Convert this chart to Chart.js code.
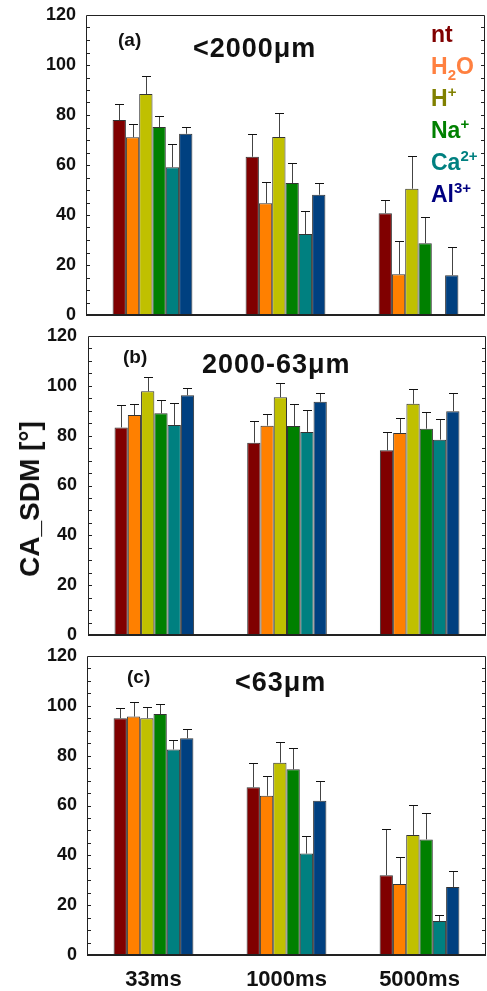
<!DOCTYPE html>
<html>
<head>
<meta charset="utf-8">
<script src="https://cdn.jsdelivr.net/npm/chart.js@4.4.1/dist/chart.umd.min.js"></script>
<style>
  body { margin: 0; background: #fff; }
  #wrap { position: relative; width: 487px; height: 991px; background: #fff; overflow: hidden;
          font-family: "Liberation Sans", Arial, sans-serif; font-weight: bold; }
  canvas { position: absolute; left: 0; }
  .txt { position: absolute; line-height: 1; white-space: nowrap; color: #111; }
  .tag { font-size: 19px; }
  .ttl { font-size: 27px; letter-spacing: 1px; }
  .lg { position: absolute; left: 431px; font-size: 23px; line-height: 1; white-space: nowrap; }
  .lg sub, .lg sup { font-size: 15px; line-height: 0; }
  #ylab { position: absolute; left: 30px; top: 499px; font-size: 28px; white-space: nowrap; color: #111;
          transform: translate(-50%, -50%) rotate(-90deg); line-height: 1; }
</style>
</head>
<body>
<div id="wrap">
  <canvas id="panel-a" width="487" height="320" style="top:0px"></canvas>
  <canvas id="panel-b" width="487" height="320" style="top:320px"></canvas>
  <canvas id="panel-c" width="487" height="351" style="top:640px"></canvas>

  <div class="txt tag" style="left:118px;top:30px">(a)</div>
  <div class="txt ttl" style="left:193px;top:35px">&lt;2000μm</div>
  <div class="txt tag" style="left:123px;top:347px">(b)</div>
  <div class="txt ttl" style="left:202px;top:351px">2000-63μm</div>
  <div class="txt tag" style="left:127px;top:667px">(c)</div>
  <div class="txt ttl" style="left:235px;top:669px">&lt;63μm</div>

  <div class="lg" style="top:23px;color:#800000">nt</div>
  <div class="lg" style="top:55px;color:#ff8040">H<sub>2</sub>O</div>
  <div class="lg" style="top:87px;color:#808000">H<sup>+</sup></div>
  <div class="lg" style="top:119px;color:#008000">Na<sup>+</sup></div>
  <div class="lg" style="top:151px;color:#008080">Ca<sup>2+</sup></div>
  <div class="lg" style="top:183px;color:#000080">Al<sup>3+</sup></div>

  <div id="ylab">CA_SDM [°]</div>
</div>

<script>
const times = ['33ms', '1000ms', '5000ms'];
const seriesNames = ['nt', 'H2O', 'H+', 'Na+', 'Ca2+', 'Al3+'];
const barColors = ['#800000', '#ff8000', '#c0c000', '#008000', '#008080', '#004080'];
const yTicks = [0, 20, 40, 60, 80, 100, 120];

// (a) <2000um : one row per series, values for 33 / 1000 / 5000 ms
const meanA = [
  [78.0, 63.3, 40.7],
  [71.1, 44.7, 16.3],
  [88.4, 71.2, 50.5],
  [75.2, 52.8, 28.7],
  [59.1, 32.4, null],
  [72.5, 48.1, 15.9]
];
const errA = [
  [6.5, 9.1, 5.3],
  [5.3, 8.6, 13.2],
  [7.3, 9.5, 13.0],
  [4.3, 8.1, 10.4],
  [9.2, 9.1, null],
  [2.8, 4.8, 11.2]
];

// (b) 2000-63um
const meanB = [
  [83.3, 77.2, 74.1],
  [88.3, 84.0, 81.1],
  [97.8, 95.4, 92.8],
  [89.0, 83.9, 82.8],
  [84.3, 81.5, 78.4],
  [96.2, 93.6, 89.8]
];
const errB = [
  [9.0, 8.6, 7.5],
  [4.4, 4.8, 6.1],
  [5.9, 5.9, 6.1],
  [5.4, 8.7, 6.8],
  [8.8, 8.7, 8.3],
  [2.9, 3.4, 7.5]
];

// (c) <63um
const meanC = [
  [95.0, 67.3, 32.0],
  [95.7, 63.9, 28.5],
  [95.0, 77.2, 48.2],
  [96.7, 74.5, 46.4],
  [82.5, 40.7, 13.6],
  [87.0, 61.9, 27.3]
];
const errC = [
  [4.1, 9.6, 18.7],
  [5.8, 8.1, 11.0],
  [4.7, 8.4, 12.1],
  [3.9, 8.4, 10.7],
  [3.7, 7.2, 2.6],
  [3.8, 7.8, 6.3]
];

// upper error bars with a cap
const errorBars = {
  id: 'errorBars',
  afterDatasetsDraw(chart) {
    const ctx = chart.ctx;
    const y = chart.scales.y;
    chart.data.datasets.forEach((ds, i) => {
      const meta = chart.getDatasetMeta(i);
      meta.data.forEach((bar, j) => {
        const v = ds.data[j];
        const e = ds.errors[j];
        if (v == null || e == null) return;
        const top = Math.round(y.getPixelForValue(v + e)) + 0.5;
        const x = Math.round(bar.x) + 0.5;
        ctx.save();
        ctx.strokeStyle = '#444';
        ctx.lineWidth = 1;
        ctx.beginPath();
        ctx.moveTo(x, bar.y);
        ctx.lineTo(x, top);
        ctx.stroke();
        ctx.strokeStyle = '#111';
        ctx.beginPath();
        ctx.moveTo(x - 4.5, top);
        ctx.lineTo(x + 4.5, top);
        ctx.stroke();
        ctx.restore();
      });
    });
  }
};

// box frame plus small inward ticks every 5
const frame = {
  id: 'frame',
  afterDraw(chart) {
    const ctx = chart.ctx;
    const a = chart.chartArea;
    const y = chart.scales.y;
    ctx.save();
    ctx.strokeStyle = '#222';
    ctx.lineWidth = 1;
    ctx.beginPath();
    ctx.moveTo(a.left + 0.5, a.bottom);
    ctx.lineTo(a.left + 0.5, a.top + 0.5);
    ctx.lineTo(a.right - 0.5, a.top + 0.5);
    ctx.lineTo(a.right - 0.5, a.bottom);
    ctx.stroke();
    for (let v = 5; v < 120; v += 5) {
      const py = Math.round(y.getPixelForValue(v)) + 0.5;
      ctx.beginPath();
      ctx.moveTo(a.left, py);
      ctx.lineTo(a.left + 4, py);
      ctx.moveTo(a.right - 4, py);
      ctx.lineTo(a.right, py);
      ctx.stroke();
    }
    ctx.lineWidth = 2;
    ctx.beginPath();
    ctx.moveTo(a.left, a.bottom);
    ctx.lineTo(a.right, a.bottom);
    ctx.stroke();
    ctx.restore();
  }
};

const makePanel = (id, means, errs, cfg) => {
  const ctx = document.getElementById(id).getContext('2d');
  return new Chart(ctx, {
    type: 'bar',
    data: {
      labels: times,
      datasets: seriesNames.map((name, i) => ({
        label: name,
        data: means[i],
        errors: errs[i],
        backgroundColor: barColors[i],
        borderColor: '#333',
        borderWidth: 1,
        categoryPercentage: 0.6,
        barPercentage: 1.0
      }))
    },
    options: {
      responsive: false,
      animation: false,
      devicePixelRatio: 1,
      layout: { padding: { top: cfg.top, right: cfg.right, bottom: cfg.bottom, left: 0 } },
      plugins: { legend: { display: false }, tooltip: { enabled: false } },
      scales: {
        x: {
          grid: { display: false, drawTicks: false },
          border: { display: false },
          ticks: {
            display: cfg.showX,
            color: '#111',
            padding: 12,
            font: { family: 'Liberation Sans, Arial, sans-serif', size: 22, weight: 'bold' }
          },
          afterFit: (s) => { s.height = cfg.xHeight; }
        },
        y: {
          min: 0,
          max: 120,
          afterBuildTicks: (s) => { s.ticks = yTicks.map(v => ({ value: v })); },
          grid: { display: false, drawTicks: false },
          border: { display: false },
          ticks: {
            color: '#111',
            padding: cfg.yPad,
            font: { family: 'Liberation Sans, Arial, sans-serif', size: 18, weight: 'bold' }
          },
          afterFit: (s) => {
            s.width = cfg.yWidth;
            s.paddingTop = 0;
            s.paddingBottom = 0;
          }
        }
      }
    },
    plugins: [errorBars, frame]
  });
};

makePanel('panel-a', meanA, errA, { top: 15, right: 2, bottom: 5, xHeight: 0, showX: false, yWidth: 86, yPad: 10 });
makePanel('panel-b', meanB, errB, { top: 16, right: 1, bottom: 5, xHeight: 0, showX: false, yWidth: 88, yPad: 11 });
makePanel('panel-c', meanC, errC, { top: 16, right: 1, bottom: 0, xHeight: 36, showX: true, yWidth: 87, yPad: 10 });
</script>
</body>
</html>
